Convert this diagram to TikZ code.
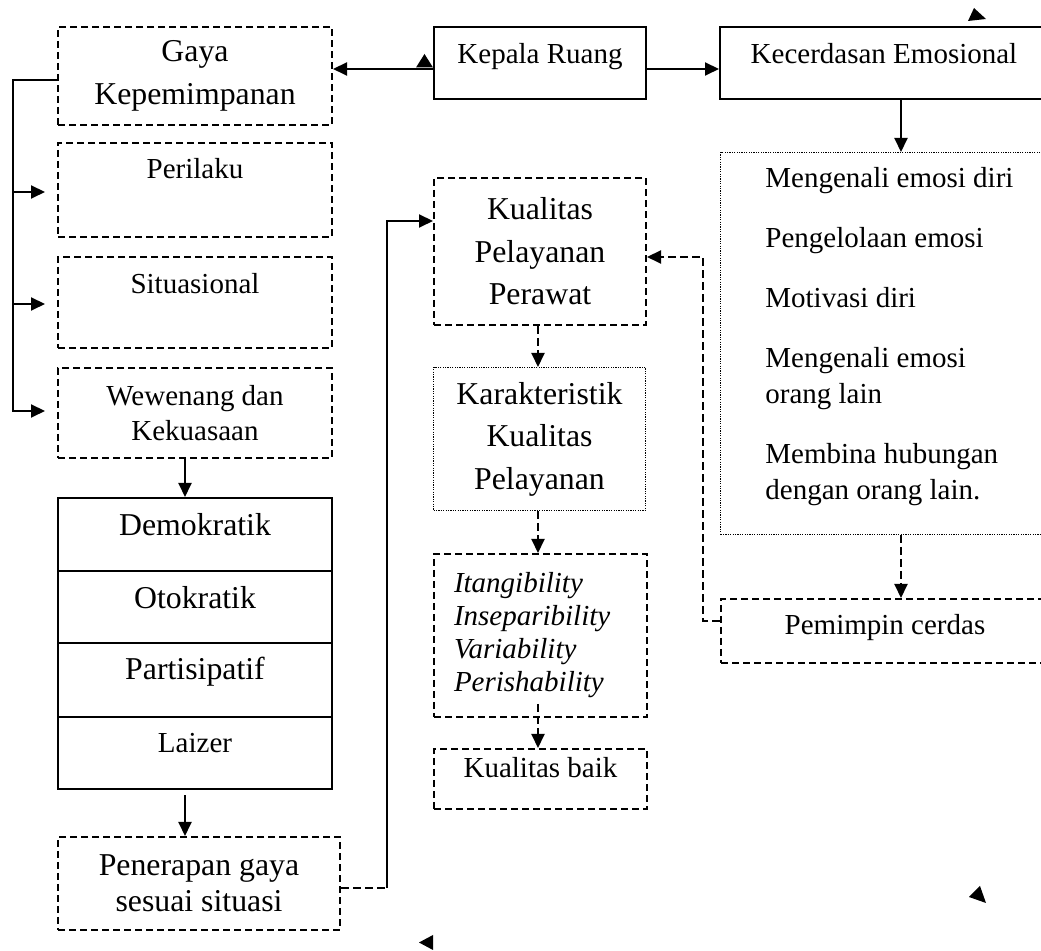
\documentclass[tikz,border=0pt]{standalone}
\usepackage{fontspec}
\setmainfont{Liberation Serif}
\usetikzlibrary{arrows.meta}
\tikzset{
  kotak/.style={draw,line width=1pt,inner sep=0pt,anchor=north west,align=center},
  putus/.style={kotak,dash pattern=on 3.5pt off 2pt},
  titik/.style={kotak,line width=0.5pt,dash pattern=on 0.6pt off 0.6pt},
  besar/.style={font=\fontsize{15.9}{21.25}\selectfont},
  kecil/.style={font=\fontsize{14.5}{17.5}\selectfont},
  panah/.style={-{Triangle[length=7pt,width=6.5pt]},line width=1pt},
  garisputus/.style={line width=1pt,dash pattern=on 4pt off 2pt}
}

\begin{document}
\begin{tikzpicture}[x=0.5pt,y=-0.5pt]
\useasboundingbox (0,0) rectangle (1041,951);
\clip (0,0) rectangle (1041,951);
% titik bantu
\coordinate (y69) at (0,69);
\coordinate (x901) at (901,0);
\coordinate (x185) at (185,0);
\coordinate (x538) at (538,0);
\coordinate (k1) at (13,80);
\coordinate (k2) at (13,411);
\coordinate (b1) at (703,621);
\coordinate (b2) at (703,257);
\coordinate (c1) at (387,888);
\coordinate (c2) at (387,221);
% kolom kiri
\node[putus,besar,minimum width=137pt,minimum height=49pt] (gaya) at (57,26) {Gaya\\Kepemimpanan};
\node[putus,kecil,minimum width=137pt,minimum height=47pt,text height=10pt,text depth=21.7pt] (perilaku) at (57,142) {Perilaku};
\node[putus,kecil,minimum width=137pt,minimum height=45.5pt,text height=10pt,text depth=19pt] (situ) at (57,256) {Situasional};
\node[putus,kecil,minimum width=137pt,minimum height=45pt] (wewenang) at (57,367) {Wewenang dan\\Kekuasaan};
\node[kotak,besar,minimum width=137pt,minimum height=36.5pt,text height=11pt,text depth=9.7pt] (demo) at (57,497) {Demokratik};
\node[kotak,besar,minimum width=137pt,minimum height=35.85pt,text height=11pt,text depth=9.7pt] (oto) at (57,570) {Otokratik};
\node[kotak,besar,minimum width=137pt,minimum height=37.15pt,text height=11pt,text depth=11.1pt] (parti) at (57,641.7) {Partisipatif};
\node[kotak,kecil,minimum width=137pt,minimum height=36.15pt,text height=10pt,text depth=10.5pt] (laizer) at (57,716) {Laizer};
\node[putus,font=\fontsize{15.9}{17.9}\selectfont,minimum width=141pt,minimum height=46.5pt] (terap) at (57,836) {Penerapan gaya\\sesuai situasi};
% kolom tengah
\node[kotak,kecil,minimum width=106pt,minimum height=36pt,text height=10pt,text depth=9.5pt] (kepala) at (433,26) {Kepala Ruang};
\node[putus,besar,minimum width=106pt,minimum height=73.5pt] (kpp) at (433,177) {Kualitas\\Pelayanan\\Perawat};
\node[titik,besar,minimum width=106pt,minimum height=71.5pt] (karakter) at (433,367) {Karakteristik\\Kualitas\\Pelayanan};
\node[putus,font=\fontsize{14.5}{16.5}\selectfont\itshape,minimum width=106.5pt,minimum height=81.5pt,text width=86.5pt,inner xsep=10pt,align=left] (itang) at (433,553) {Itangibility\\Inseparibility\\Variability\\Perishability};
\node[putus,kecil,minimum width=106.5pt,minimum height=30pt,text height=10pt,text depth=11.3pt] (kbaik) at (433,748) {Kualitas baik};
% kolom kanan
\node[kotak,kecil,minimum width=164pt,minimum height=36pt,text height=10pt,text depth=9.5pt] (kecer) at (719,26) {Kecerdasan Emosional};
\node[titik,minimum width=180pt,minimum height=191pt] (emosi) at (720,152) {};
\node[anchor=north west,align=left,inner sep=0pt,font=\fontsize{14.5}{18}\selectfont] (emositeks) at (765,167) {Mengenali emosi diri\\[12pt]Pengelolaan emosi\\[12pt]Motivasi diri\\[12pt]Mengenali emosi\\orang lain\\[12pt]Membina hubungan\\dengan orang lain.};
\node[putus,kecil,minimum width=164pt,minimum height=32pt,text height=10pt,text depth=6.7pt] (pemimpin) at (720,598) {Pemimpin cerdas};
% panah
\draw[panah] (kepala.west |- y69) -- (gaya.east |- y69);
\draw[panah] (kepala.east |- y69) -- (kecer.west |- y69);
\draw[panah] (kecer.south -| x901) -- (emosi.north -| x901);
\draw[panah,garisputus] (emosi.south -| x901) -- (pemimpin.north -| x901);
\draw[panah,garisputus] (pemimpin.west |- b1) -- (b1) -- (b2) -- (kpp.east |- b2);
\draw[panah,shorten >=6pt] (gaya.west |- k1) -- (k1) -- (k2) -- (wewenang.west |- k2);
\foreach \n/\y in {perilaku/192,situ/304}{\draw[panah,shorten >=6pt] (13,\y) -- (\n.west |- 13,\y);}
\draw[panah] (wewenang.south -| x185) -- (demo.north -| x185);
\draw[panah,shorten <=2.5pt] (laizer.south -| x185) -- (terap.north -| x185);
\draw[garisputus] (terap.east |- c1) -- (c1);
\draw[panah] (c1) -- (c2) -- (kpp.west |- c2);
\draw[panah,garisputus] (kpp.south -| x538) -- (karakter.north -| x538);
\draw[panah,garisputus] (karakter.south -| x538) -- (itang.north -| x538);
\draw[panah,garisputus] (itang.south -| x538) ++(0,-14) -- (kbaik.north -| x538);
% segitiga lepas
\fill (416,67.5) -- (433,67.5) -- (424.5,54) -- cycle;
\fill (974,8) -- (968,21) -- (986,19) -- cycle;
\fill (980,886) -- (969,897) -- (986,903) -- cycle;
\fill (419,942.5) -- (433,935) -- (433,950) -- cycle;
\end{tikzpicture}
\end{document}
